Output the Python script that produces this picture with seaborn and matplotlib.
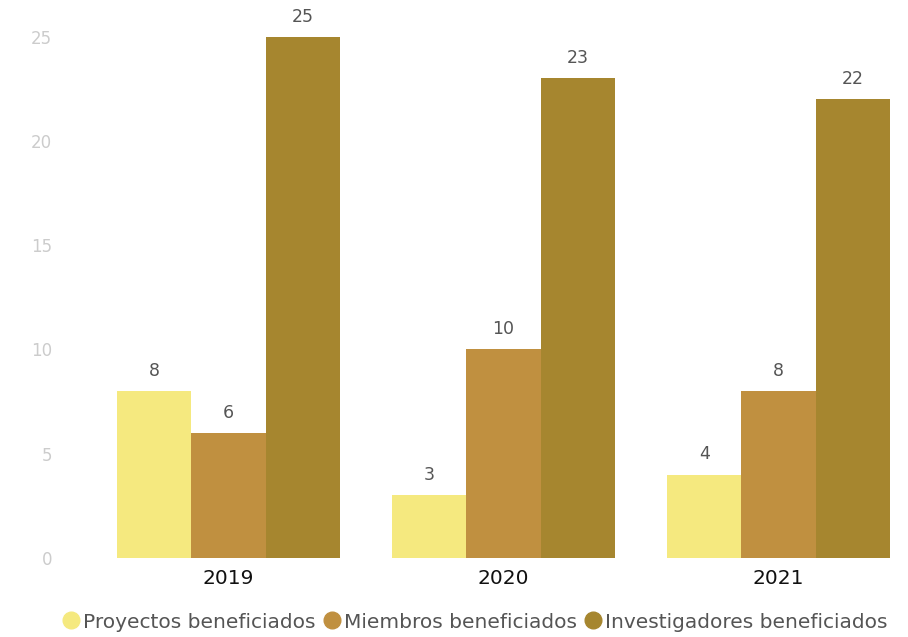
import numpy as np
import pandas as pd
import matplotlib.pyplot as plt
import seaborn as sns
from matplotlib.lines import Line2D

years = ["2019", "2020", "2021"]
series = ["Proyectos beneficiados", "Miembros beneficiados", "Investigadores beneficiados"]
proyectos = [8, 3, 4]
miembros = [6, 10, 8]
investigadores = [25, 23, 22]
colors = ["#F5E97F", "#C09040", "#A6862F"]

df = pd.DataFrame({
    "year": years * 3,
    "serie": [series[0]] * 3 + [series[1]] * 3 + [series[2]] * 3,
    "value": proyectos + miembros + investigadores,
})

sns.set_style("white")
plt.rcParams['font.family'] = ['DejaVu Sans']

fig = plt.figure(figsize=(9.08, 6.37), dpi=100)
ax = fig.add_axes([80 / 908, 79 / 637, 825 / 908, 538 / 637])
sns.barplot(data=df, x="year", y="value", hue="serie", palette=colors,
            width=0.81, saturation=1, linewidth=0, ax=ax, legend=False)

for cont in ax.containers:
    ax.bar_label(cont, padding=8, fontsize=12.5, color="#555555")

ax.set_xlim(-0.54, 2.46)
ax.set_ylim(0, 25.8)
ax.set_yticks([0, 5, 10, 15, 20, 25])
ax.tick_params(axis="y", colors="#cccccc", labelsize=12, length=0, pad=20)
ax.tick_params(axis="x", labelsize=14.5, length=0, pad=8, labelcolor="#111111")
ax.set_xlabel("")
ax.set_ylabel("")
sns.despine(ax=ax, left=True, bottom=True)

handles = [Line2D([], [], marker="o", linestyle="", markersize=12, color=c) for c in colors]
fig.legend(handles, series, loc="center left", bbox_to_anchor=(64 / 908, 1 - 622 / 637),
           ncol=3, frameon=False, handlelength=0.7, handletextpad=0.25, columnspacing=0.45,
           borderaxespad=0, borderpad=0, fontsize=14.5, labelcolor="#555555")

fig.savefig("out.png", dpi=100)
